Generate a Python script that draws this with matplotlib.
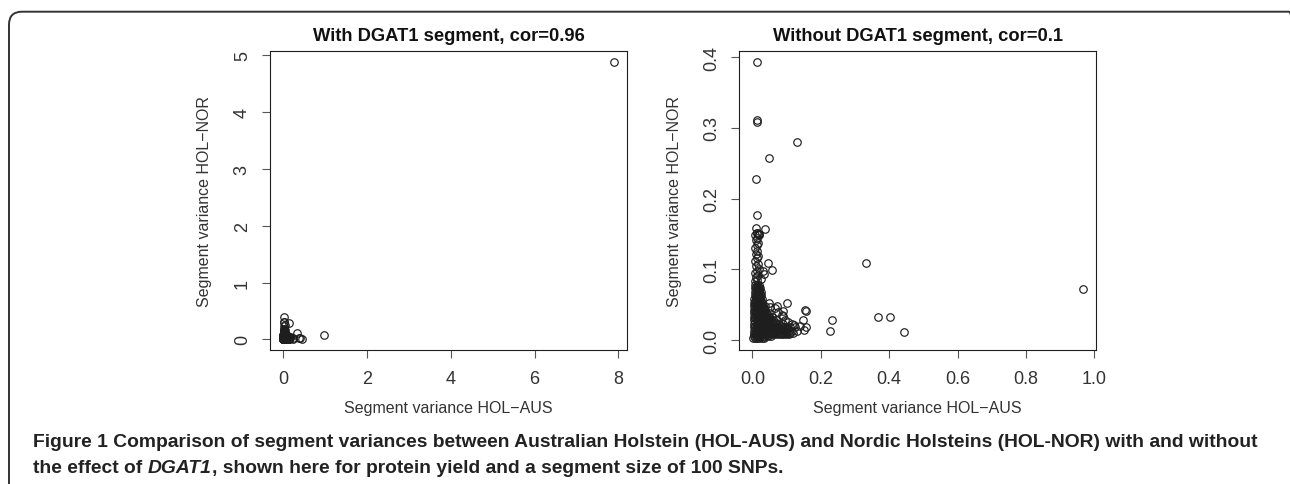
import matplotlib
matplotlib.use("Agg")
import matplotlib.pyplot as plt
from matplotlib.patches import FancyBboxPatch

plt.rcParams['font.family'] = ['Liberation Sans', 'DejaVu Sans']

# segment variances without the DGAT1 segment
# outlying points
out_aus = [0.013, 0.012, 0.012, 0.130, 0.049, 0.011, 0.013, 0.010, 0.037, 0.014, 0.017,
           0.046, 0.058, 0.035, 0.333, 0.966, 0.368, 0.401, 0.442, 0.2335, 0.228,
           0.100, 0.049, 0.073, 0.153, 0.156, 0.147, 0.156, 0.150, 0.120, 0.089,
           0.052, 0.065, 0.075, 0.089, 0.085, 0.095, 0.105, 0.115, 0.125, 0.130,
           0.118, 0.140, 0.030, 0.025]
out_nor = [0.393, 0.311, 0.309, 0.280, 0.257, 0.2275, 0.177, 0.158, 0.157, 0.152, 0.150,
           0.1086, 0.099, 0.093, 0.109, 0.072, 0.0324, 0.0324, 0.0113, 0.028, 0.0127,
           0.052, 0.0525, 0.048, 0.042, 0.041, 0.028, 0.018, 0.0145, 0.021, 0.0405,
           0.047, 0.045, 0.040, 0.034, 0.035, 0.028, 0.025, 0.022, 0.018, 0.013,
           0.010, 0.020, 0.098, 0.087]

# the dense mass of segments near zero, row by row
blob_aus = [
    0.002, 0.008, 0.014, 0.020, 0.027, 0.034,
    0.005, 0.011, 0.017, 0.023, 0.030, 0.038, 0.046, 0.054,
    0.003, 0.010, 0.018, 0.026, 0.034, 0.042, 0.050, 0.058, 0.066, 0.074, 0.082, 0.090, 0.098, 0.106,
    0.007, 0.014, 0.022, 0.030, 0.038, 0.046, 0.054, 0.062, 0.070, 0.078, 0.086, 0.094, 0.102, 0.111,
    0.003, 0.011, 0.019, 0.027, 0.035, 0.043, 0.051, 0.059, 0.067, 0.075, 0.083, 0.091, 0.099, 0.107, 0.115,
    0.007, 0.015, 0.023, 0.031, 0.039, 0.047, 0.055, 0.063, 0.071, 0.079, 0.087, 0.095, 0.104,
    0.004, 0.012, 0.020, 0.028, 0.036, 0.044, 0.052, 0.060, 0.068, 0.076, 0.084, 0.092, 0.100, 0.110,
    0.008, 0.016, 0.024, 0.032, 0.040, 0.048, 0.056, 0.064, 0.073, 0.082,
    0.004, 0.012, 0.020, 0.028, 0.036, 0.044, 0.052, 0.060, 0.068, 0.078, 0.088,
    0.008, 0.016, 0.024, 0.032, 0.040, 0.048, 0.056, 0.065,
    0.004, 0.012, 0.020, 0.028, 0.036, 0.044, 0.052, 0.060, 0.070,
    0.008, 0.015, 0.022, 0.029, 0.036, 0.044, 0.052,
    0.004, 0.011, 0.018, 0.025, 0.032, 0.040, 0.048, 0.056,
    0.008, 0.015, 0.022, 0.029, 0.036, 0.044,
    0.004, 0.011, 0.018, 0.025, 0.032, 0.040, 0.048,
    0.008, 0.014, 0.021, 0.028, 0.035,
    0.005, 0.011, 0.017, 0.024, 0.031, 0.038,
    0.008, 0.014, 0.020, 0.027, 0.033,
    0.005, 0.011, 0.017, 0.023, 0.030, 0.036,
    0.008, 0.014, 0.020, 0.026,
    0.005, 0.011, 0.017, 0.023, 0.029,
    0.008, 0.014, 0.020, 0.026,
    0.005, 0.011, 0.017, 0.023, 0.028,
    0.009, 0.015, 0.021,
    0.006, 0.012, 0.018, 0.024,
    0.009, 0.015, 0.021,
    0.006, 0.012, 0.018, 0.024,
    0.009, 0.015, 0.020,
    0.006, 0.012, 0.018, 0.022,
    0.010, 0.016,
    0.007, 0.013, 0.019,
    # column above the mass
    0.008, 0.014, 0.010, 0.016, 0.008, 0.013, 0.018, 0.010, 0.015, 0.008, 0.013, 0.017,
    0.010, 0.014, 0.008, 0.012, 0.016, 0.010, 0.014, 0.008, 0.018, 0.012, 0.020,
]
blob_nor = [
    0.003, 0.003, 0.003, 0.003, 0.003, 0.003,
    0.0055, 0.0055, 0.0055, 0.0055, 0.0055, 0.0055, 0.0055, 0.0055,
    0.008, 0.008, 0.008, 0.008, 0.008, 0.008, 0.008, 0.008, 0.008, 0.008, 0.008, 0.008, 0.008, 0.008,
    0.0105, 0.0105, 0.0105, 0.0105, 0.0105, 0.0105, 0.0105, 0.0105, 0.0105, 0.0105, 0.0105, 0.0105, 0.0105, 0.0105,
    0.013, 0.013, 0.013, 0.013, 0.013, 0.013, 0.013, 0.013, 0.013, 0.013, 0.013, 0.013, 0.013, 0.013, 0.013,
    0.0155, 0.0155, 0.0155, 0.0155, 0.0155, 0.0155, 0.0155, 0.0155, 0.0155, 0.0155, 0.0155, 0.0155, 0.0155,
    0.018, 0.018, 0.018, 0.018, 0.018, 0.018, 0.018, 0.018, 0.018, 0.018, 0.018, 0.018, 0.018, 0.018,
    0.0205, 0.0205, 0.0205, 0.0205, 0.0205, 0.0205, 0.0205, 0.0205, 0.0205, 0.0205,
    0.023, 0.023, 0.023, 0.023, 0.023, 0.023, 0.023, 0.023, 0.023, 0.023, 0.023,
    0.0255, 0.0255, 0.0255, 0.0255, 0.0255, 0.0255, 0.0255, 0.0255,
    0.028, 0.028, 0.028, 0.028, 0.028, 0.028, 0.028, 0.028, 0.028,
    0.0305, 0.0305, 0.0305, 0.0305, 0.0305, 0.0305, 0.0305,
    0.033, 0.033, 0.033, 0.033, 0.033, 0.033, 0.033, 0.033,
    0.0355, 0.0355, 0.0355, 0.0355, 0.0355, 0.0355,
    0.038, 0.038, 0.038, 0.038, 0.038, 0.038, 0.038,
    0.0405, 0.0405, 0.0405, 0.0405, 0.0405,
    0.043, 0.043, 0.043, 0.043, 0.043, 0.043,
    0.0455, 0.0455, 0.0455, 0.0455, 0.0455,
    0.048, 0.048, 0.048, 0.048, 0.048, 0.048,
    0.0505, 0.0505, 0.0505, 0.0505,
    0.053, 0.053, 0.053, 0.053, 0.053,
    0.0555, 0.0555, 0.0555, 0.0555,
    0.058, 0.058, 0.058, 0.058, 0.058,
    0.0605, 0.0605, 0.0605,
    0.063, 0.063, 0.063, 0.063,
    0.0655, 0.0655, 0.0655,
    0.068, 0.068, 0.068, 0.068,
    0.0705, 0.0705, 0.0705,
    0.073, 0.073, 0.073, 0.073,
    0.0755, 0.0755,
    0.078, 0.078, 0.078,
    0.083, 0.085, 0.089, 0.092, 0.095, 0.098, 0.101, 0.104, 0.108, 0.112, 0.116, 0.119,
    0.122, 0.126, 0.130, 0.134, 0.137, 0.141, 0.145, 0.148, 0.150, 0.152, 0.148,
]

# the DGAT1 segment itself
dgat1_aus = 7.90
dgat1_nor = 4.885

aus = out_aus + blob_aus
nor = out_nor + blob_nor

titles = ["With DGAT1 segment, cor=0.96", "Without DGAT1 segment, cor=0.1"]
xlab = "Segment variance HOL\u2212AUS"
ylab = "Segment variance HOL\u2212NOR"

ink = '#1e1e1e'
fig = plt.figure(figsize=(12.9, 4.85), dpi=100)
ax1 = fig.add_axes([0.2093, 0.2753, 0.2770, 0.6175])
ax2 = fig.add_axes([0.5731, 0.2753, 0.2765, 0.6175])

ax1.plot(aus + [dgat1_aus], nor + [dgat1_nor], 'o', ms=5.4, mfc='none', mec=ink, mew=0.85)
ax2.plot(aus, nor, 'o', ms=5.4, mfc='none', mec=ink, mew=0.85)

ax1.set_xlim(-0.315, 8.216)
ax1.set_ylim(-0.195, 5.075)
ax1.set_xticks([0, 2, 4, 6, 8])
ax1.set_yticks([0, 1, 2, 3, 4, 5])

ax2.set_xlim(-0.0386, 1.005)
ax2.set_ylim(-0.0148, 0.4088)
ax2.set_xticks([0.0, 0.2, 0.4, 0.6, 0.8, 1.0])
ax2.set_xticklabels(["0.0", "0.2", "0.4", "0.6", "0.8", "1.0"])
ax2.set_yticks([0.0, 0.1, 0.2, 0.3, 0.4])
ax2.set_yticklabels(["0.0", "0.1", "0.2", "0.3", "0.4"])

for ax, t in zip([ax1, ax2], titles):
    for s in ax.spines.values():
        s.set_linewidth(0.8)
        s.set_color(ink)
    ax.tick_params(direction='out', length=5.8, width=0.8, color='#555555',
                   labelsize=13, labelcolor='#333333', pad=8)
    for lbl in ax.get_yticklabels():
        lbl.set_rotation(90)
        lbl.set_va('center')
    ax.set_title(t, fontsize=13.2, fontweight='bold', pad=8, color='#111111')
    ax.set_xlabel(xlab, fontsize=11.5, color='#333333')
    ax.set_ylabel(ylab, fontsize=11.5, color='#333333')
    ax.xaxis.set_label_coords(0.5, -0.192)
    ax.xaxis.label.set_va('center')
    ax.yaxis.set_label_coords(-0.182, 0.5)
    ax.yaxis.label.set_va('center')

# frame round the figure, only top and left sides fall inside the picture
frame = FancyBboxPatch((0.09, -0.5), 12.93, 4.723 + 0.5, boxstyle="round,pad=0,rounding_size=0.13",
                       transform=fig.dpi_scale_trans, fill=False, lw=1.4, ec='#333333')
fig.patches.append(frame)

# caption
cap_font = dict(fontsize=13.9, fontweight='bold', color='#222222', va='baseline')
fig.text(0.0256, 0.0784, "Figure 1 Comparison of segment variances between Australian Holstein "
         "(HOL-AUS) and Nordic Holsteins (HOL-NOR) with and without", **cap_font)
r = fig.canvas.get_renderer()
x0 = 0.0256
pieces = [("the effect of ", 'normal'), ("DGAT1", 'italic'),
          (", shown here for protein yield and a segment size of 100 SNPs.", 'normal')]
for txt, st in pieces:
    t = fig.text(x0, 0.0247, txt, style=st, **cap_font)
    bb = t.get_window_extent(renderer=r)
    x0 = bb.x1 / fig.bbox.width

fig.savefig("out.png", dpi=100)
